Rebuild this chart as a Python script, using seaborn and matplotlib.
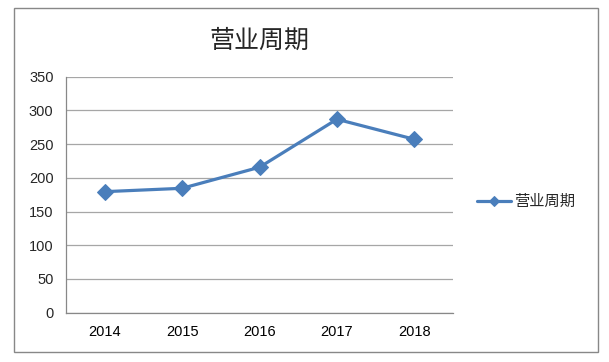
import numpy as np
import pandas as pd
import matplotlib
matplotlib.use("Agg")
import matplotlib.pyplot as plt
from matplotlib.patches import Rectangle
import seaborn as sns

years = ["2014", "2015", "2016", "2017", "2018"]
values = [179.5, 184.5, 215.7, 286.9, 257.2]
series_name = "营业周期"

sns.set_style("white")
plt.rcParams['font.family'] = ['Liberation Sans', 'Noto Sans CJK SC', 'DejaVu Sans']

data = pd.DataFrame({"year": years, "value": values})

fig = plt.figure(figsize=(6.09, 3.62), dpi=100)
ax = fig.add_axes([66/609, 1-312.7/362, (453-66)/609, (312.7-76.7)/362])

blue = "#4A7EBB"
sns.lineplot(data=data, x="year", y="value", ax=ax, color=blue, linewidth=2.3,
             marker="D", markersize=8, markeredgecolor=blue, label=series_name)

ax.set_ylim(0, 350)
ax.set_yticks(np.arange(0, 351, 50))
ax.set_xlim(-0.5, len(years) - 0.5)
ax.set_xticks(range(len(years)))
ax.set_xticks(np.arange(-0.5, len(years), 1), minor=True)
ax.tick_params(axis="x", which="major", length=0, pad=9, labelsize=10.5, colors="black")
ax.tick_params(axis="x", which="minor", length=5, color="#888888", width=0.8)
ax.tick_params(axis="y", length=5, color="#888888", width=0.8, labelsize=10.5, pad=4)
ax.set_xlabel("")
ax.set_ylabel("")

ax.grid(axis="y", color="#A6A6A6", linewidth=0.9)
ax.set_axisbelow(True)
for s in ["top", "right"]:
    ax.spines[s].set_visible(False)
for s in ["left", "bottom"]:
    ax.spines[s].set_color("#888888")
    ax.spines[s].set_linewidth(0.9)

ax.set_title(series_name, fontsize=18, pad=21, family=['Noto Sans CJK SC', 'DejaVu Sans'])

leg = ax.legend(loc="center left", bbox_to_anchor=(1.027, 0.47), frameon=False,
                handlelength=2.2, handletextpad=0.2, markerscale=0.7,
                prop={'family': ['Noto Sans CJK SC', 'DejaVu Sans'], 'size': 11})

fig.patches.append(Rectangle((14/609, 1-352/362), (598-14)/609, (352-8)/362,
                             transform=fig.transFigure, fill=False,
                             edgecolor="#888888", linewidth=1))

fig.savefig("out.png", dpi=100)
